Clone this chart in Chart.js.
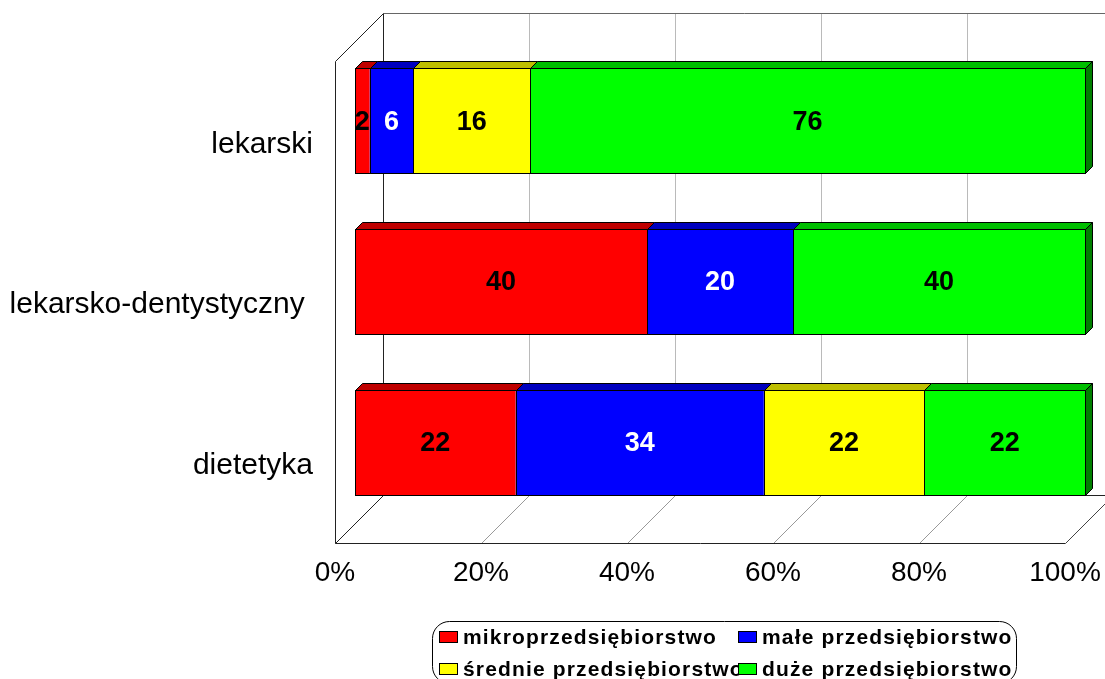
<!DOCTYPE html>
<html>
<head>
<meta charset="utf-8">
<style>
    html, body { margin: 0; padding: 0; background: #fff; overflow: hidden; }
    canvas { display: block; }
</style>
<script src="https://cdn.jsdelivr.net/npm/chart.js@4/dist/chart.umd.js"></script>
</head>
<body>
<canvas id="chart" width="1105" height="679"></canvas>
<script>
const categories = ['lekarski', 'lekarsko-dentystyczny ', 'dietetyka']
const seriesNames = ['mikroprzedsiębiorstwo', 'małe przedsiębiorstwo', 'średnie przedsiębiorstwo', 'duże przedsiębiorstwo']
const mikro = [2, 40, 22]
const male = [6, 20, 34]
const srednie = [16, 0, 22]
const duze = [76, 40, 22]

const colors = ['#ff0000', '#0000ff', '#ffff00', '#00ff00']
const topColors = ['#bf0000', '#0000bf', '#bfbf00', '#00bf00']
const sideColors = ['#7f0000', '#00007f', '#7f7f00', '#007f00']
const labelColors = ['#000', '#fff', '#000', '#000']

const FONT = '"Liberation Sans", Arial, sans-serif'
const WALL = 48     // depth of the box
const SHIFT = 20    // bars sit this far inside the box
const DEPTH = 7     // depth of one bar

function line(ctx, x1, y1, x2, y2, color, dash) {
    ctx.strokeStyle = color
    ctx.lineWidth = 1
    ctx.setLineDash(dash || [])
    ctx.beginPath()
    ctx.moveTo(x1 + 0.5, y1 + 0.5)
    ctx.lineTo(x2 + 0.5, y2 + 0.5)
    ctx.stroke()
    ctx.setLineDash([])
}

function face(ctx, points, color) {
    ctx.fillStyle = color
    ctx.strokeStyle = '#000'
    ctx.lineWidth = 1
    ctx.beginPath()
    points.forEach(([x, y], i) => i ? ctx.lineTo(x, y) : ctx.moveTo(x, y))
    ctx.closePath()
    ctx.fill()
    ctx.stroke()
}

const box3d = {
    id: 'box3d',
    beforeDatasetsDraw(chart) {
        const { ctx, chartArea: a, scales } = chart
        ctx.save()
        scales.x.ticks.forEach(t => {
            if (t.value === 0 || t.value === 100) return
            const x = Math.round(scales.x.getPixelForValue(t.value))
            line(ctx, x + WALL, a.top - WALL, x + WALL, a.bottom - WALL, '#777', [1, 1])
            line(ctx, x, a.bottom, x + WALL, a.bottom - WALL, '#999')
        })
        const l = Math.round(a.left), r = Math.round(a.right), t = Math.round(a.top), b = Math.round(a.bottom)
        const dark = '#222'
        line(ctx, l, t, l, b, dark)
        line(ctx, l, t, l + WALL, t - WALL, dark)
        line(ctx, l + WALL, t - WALL, r + WALL, t - WALL, '#666')
        line(ctx, l + WALL, t - WALL, l + WALL, b - WALL, dark)
        line(ctx, l, b, r, b, dark)
        line(ctx, l, b, l + WALL, b - WALL, dark)
        line(ctx, l + WALL, b - WALL, r + WALL, b - WALL, dark)
        line(ctx, r, b, r + WALL, b - WALL, '#444')
        ctx.restore()

        ctx.save()
        ctx.translate(SHIFT, -SHIFT)
    },
    afterDatasetsDraw(chart) {
        const { ctx, data } = chart
        data.labels.forEach((_, row) => {
            let last = null
            data.datasets.forEach((ds, i) => {
                if (!ds.data[row]) return
                const bar = chart.getDatasetMeta(i).data[row]
                const top = Math.floor(bar.y - bar.height / 2) + 0.5
                const bottom = Math.floor(bar.y + bar.height / 2) + 0.5
                const x0 = Math.round(bar.base) + 0.5
                const x1 = Math.round(bar.x) + 0.5
                face(ctx, [[x0, top], [x0 + DEPTH, top - DEPTH], [x1 + DEPTH, top - DEPTH], [x1, top]], topColors[i])
                // crisp black outline, the library's inset border blurs on fractional pixels
                ctx.strokeStyle = '#000'
                ctx.strokeRect(x0, top, x1 - x0, bottom - top)
                last = { x1, top, bottom, i }
            })
            if (last) {
                const { x1, top, bottom, i } = last
                face(ctx, [[x1, top], [x1 + DEPTH, top - DEPTH], [x1 + DEPTH, bottom - DEPTH], [x1, bottom]], sideColors[i])
            }
        })
        ctx.font = 'bold 27px ' + FONT
        ctx.textAlign = 'center'
        ctx.textBaseline = 'middle'
        data.labels.forEach((_, row) => {
            data.datasets.forEach((ds, i) => {
                if (!ds.data[row]) return
                const bar = chart.getDatasetMeta(i).data[row]
                ctx.fillStyle = labelColors[i]
                ctx.fillText(ds.data[row], (bar.x + bar.base) / 2, bar.y + 1)
            })
        })
        ctx.restore()
    },
    afterDraw(chart) {
        // legend box runs past the bottom of the picture, same as the reference
        const { ctx, data } = chart
        const spots = [[439, 644], [738, 644], [439, 676], [738, 676]]
        ctx.save()
        ctx.strokeStyle = '#000'
        ctx.lineWidth = 1
        ctx.beginPath()
        ctx.roundRect(432.5, 621.5, 584, 62, 17)
        ctx.stroke()
        ctx.font = 'bold 21px ' + FONT
        ctx.letterSpacing = '1.15px'
        ctx.textAlign = 'left'
        ctx.textBaseline = 'alphabetic'
        ctx.fillStyle = '#000'
        data.datasets.forEach((ds, i) => ctx.fillText(ds.label, spots[i][0] + 24, spots[i][1]))
        ctx.lineWidth = 1
        data.datasets.forEach((ds, i) => {
            ctx.fillStyle = colors[i]
            ctx.fillRect(spots[i][0] + 0.5, spots[i][1] - 12.5, 18, 11)
            ctx.strokeRect(spots[i][0] + 0.5, spots[i][1] - 12.5, 18, 11)
        })
        ctx.restore()
    }
}

new Chart(document.getElementById('chart'), {
    type: 'bar',
    plugins: [box3d],
    data: {
        labels: categories,
        datasets: [mikro, male, srednie, duze].map((values, i) => ({
            label: seriesNames[i],
            data: values,
            backgroundColor: colors[i],
            borderWidth: 0,
            clip: false,
            categoryPercentage: 1,
            barPercentage: 0.654
        }))
    },
    options: {
        indexAxis: 'y',
        responsive: false,
        animation: false,
        layout: { padding: { top: 61, right: 40, left: 0, bottom: 0 } },
        plugins: { legend: { display: false }, tooltip: { enabled: false } },
        scales: {
            x: {
                stacked: true,
                min: 0,
                max: 100,
                border: { display: false },
                grid: { display: false },
                afterFit: scale => {
                    scale.height = 679 - 543
                    scale.paddingLeft = 0
                    scale.paddingRight = 0
                },
                ticks: {
                    stepSize: 20,
                    maxRotation: 0,
                    autoSkip: false,
                    padding: 5,
                    color: '#000',
                    font: { family: FONT, size: 28 },
                    callback: value => value + '%'
                }
            },
            y: {
                stacked: true,
                border: { display: false },
                grid: { display: false },
                afterFit: scale => { scale.width = 335 },
                ticks: {
                    padding: 14,
                    labelOffset: 3,
                    autoSkip: false,
                    color: '#000',
                    font: { family: FONT, size: 30 }
                }
            }
        }
    }
})
</script>
</body>
</html>
